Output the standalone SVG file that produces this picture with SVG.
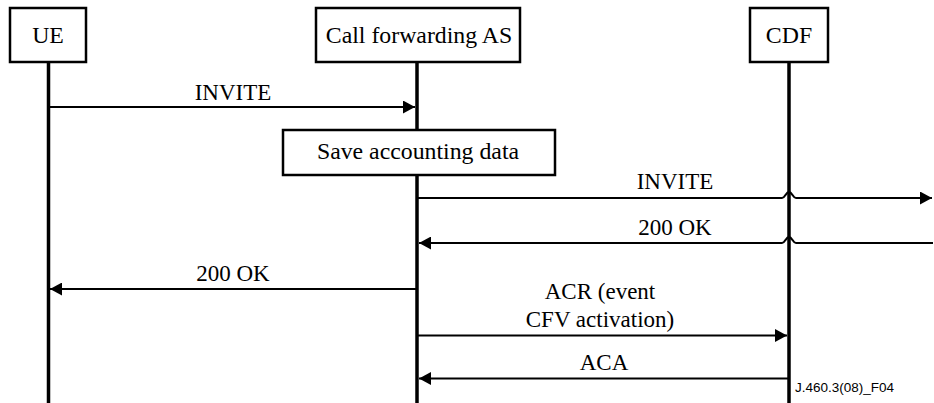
<svg xmlns="http://www.w3.org/2000/svg" width="934" height="403" viewBox="0 0 934 403">
<style>
.box{fill:#fff;stroke:#000;stroke-width:2.5}
.life{stroke:#000;stroke-width:3.5;fill:none}
.msg{stroke:#000;stroke-width:2.2;fill:none}
.arr{marker-end:url(#ah)}
.t{font-family:'Liberation Serif','Times New Roman',serif;font-size:23px;fill:#000;text-anchor:middle}
.b{font-size:23.8px}
.note{font-family:'Liberation Sans',Arial,sans-serif;font-size:13.5px;fill:#000;text-anchor:start}
</style>
<defs>
<marker id="ah" viewBox="0 0 12 13" refX="12" refY="6.5" markerWidth="12" markerHeight="13" markerUnits="userSpaceOnUse" orient="auto">
<path d="M0,0 L12,6.5 L0,13 Z" fill="#000"/>
</marker>
</defs>
<rect width="934" height="403" fill="#fff"/>
<g id="lifelines">
<line class="life" x1="48.5" y1="62" x2="48.5" y2="403"/>
<line class="life" x1="417" y1="62" x2="417" y2="403"/>
<line class="life" x1="789" y1="62" x2="789" y2="403"/>
</g>
<g id="UE">
<rect class="box" x="10" y="8" width="76" height="54"/>
<text class="t b" x="48" y="43">UE</text>
</g>
<g id="AS">
<rect class="box" x="316" y="8" width="204" height="54"/>
<text class="t b" x="419" y="43">Call forwarding AS</text>
</g>
<g id="CDF">
<rect class="box" x="750" y="8" width="78" height="54"/>
<text class="t b" x="789" y="43">CDF</text>
</g>
<g id="save">
<rect class="box" x="283" y="130" width="272" height="45"/>
<text class="t b" x="418" y="159">Save accounting data</text>
</g>
<g id="connectors">
<line class="msg arr" x1="48.5" y1="107" x2="415" y2="107"/>
<text class="t" x="233" y="100">INVITE</text>
<path class="msg arr" d="M417,198 H782 C785,198 786,192 789,192 C792,192 793,198 796,198 H932"/>
<text class="t" x="675" y="189">INVITE</text>
<path class="msg arr" d="M933,243 H796 C793,243 792,237 789,237 C786,237 785,243 782,243 H419"/>
<text class="t" x="675" y="235">200 OK</text>
<line class="msg arr" x1="417" y1="289" x2="50" y2="289"/>
<text class="t" x="233" y="281">200 OK</text>
<line class="msg arr" x1="417" y1="335.5" x2="787" y2="335.5"/>
<text class="t" x="600" y="299">ACR (event</text>
<text class="t" x="600" y="327">CFV activation)</text>
<line class="msg arr" x1="789" y1="378.5" x2="419" y2="378.5"/>
<text class="t" x="604" y="370">ACA</text>
</g>
<text class="note" x="795" y="392">J.460.3(08)_F04</text>
</svg>
